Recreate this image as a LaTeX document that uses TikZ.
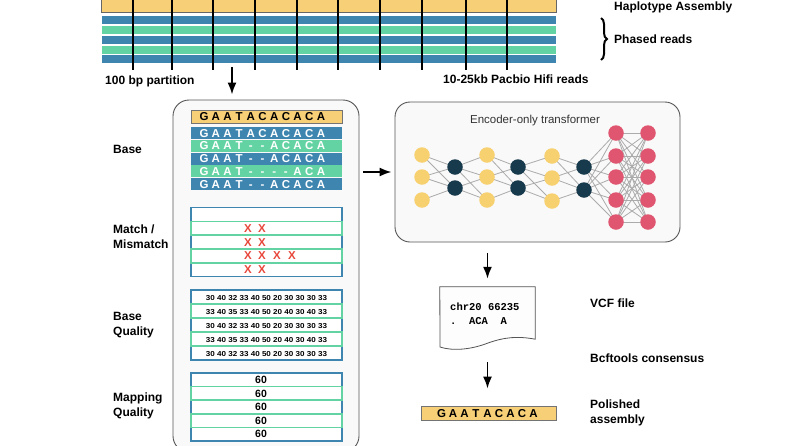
\documentclass[tikz,border=0pt]{standalone}
\usepackage{fontspec}
\usepackage{graphicx}
\setmainfont{Liberation Sans}
\setmonofont{Liberation Mono}
\usetikzlibrary{arrows.meta,decorations.pathreplacing}
\definecolor{hapY}{HTML}{F7CF77}
\definecolor{rBlue}{HTML}{3E85B0}
\definecolor{rGreen}{HTML}{64D3A3}
\definecolor{nYel}{HTML}{F7D06F}
\definecolor{nDark}{HTML}{173A4C}
\definecolor{nRed}{HTML}{E0556F}
\definecolor{xRed}{HTML}{E8473B}
\definecolor{panelFill}{HTML}{F9F9F9}
\definecolor{panelLine}{HTML}{555555}
\definecolor{edgeGray}{HTML}{ABABAB}
\definecolor{docFill}{HTML}{FDFDFD}
\newcommand{\seqrow}[4]{%
  \foreach \c [count=\i from 0] in {#4}
    \node[letter, text=#3] (#1-\i) at ({204+11.7*\i},#2) {\c};
}
\begin{document}
\begin{tikzpicture}[x=1pt,y=-1pt,
  lbl/.style={font=\bfseries\fontsize{12}{15}\selectfont, text=black, align=left, anchor=west, inner sep=0pt},
  arr/.style={-{Latex[length=12pt,width=9pt]}, line width=1.8pt},
  cut/.style={line width=1.7pt},
  panel/.style={draw=panelLine, fill=panelFill, line width=0.9pt, rounded corners=16pt, inner sep=0pt},
  seqbox/.style={minimum width=151pt, minimum height=12pt, inner sep=0pt},
  cellb/.style={draw=rBlue, line width=1.5pt, fill=white, minimum width=151pt, inner sep=0pt},
  cellg/.style={cellb, draw=rGreen},
  letter/.style={font=\bfseries\fontsize{11.5}{12}\selectfont, inner sep=0pt, anchor=base},
  qual/.style={font=\bfseries\fontsize{7.2}{8}\selectfont, inner sep=0pt},
  mq/.style={font=\bfseries\fontsize{10.5}{11}\selectfont, inner sep=0pt},
  xmark/.style={font=\bfseries\fontsize{11.5}{11}\selectfont, text=xRed, inner sep=0pt},
  yel/.style={circle, fill=nYel, minimum size=15.5pt, inner sep=0pt},
  dk/.style={yel, fill=nDark},
  rd/.style={yel, fill=nRed},
  edge/.style={draw=edgeGray, line width=0.8pt},
]
\clip (0,0) rectangle (800,445);
\fill[white] (0,0) rectangle (800,445);

% ---------- top: haplotype assembly and reads ----------
\draw[fill=hapY, draw=black!60, line width=0.8pt] (101,-5) rectangle (556,12);
\foreach \ya/\yb/\col in {16/23.5/rBlue, 26/33.5/rGreen, 36/43.5/rBlue, 46/53.5/rGreen, 55/62.5/rBlue}
  \fill[\col] (102,\ya) rectangle (556,\yb);
\foreach \x in {133,172,213,255,297,338,380,422,466,507}
  \draw[cut] (\x,-2) -- (\x,70);
\node[lbl] (hap) at (614,7) {Haplotype Assembly};
\node[lbl] (phased) at (614,39) {Phased reads};
\draw[decorate, decoration={brace, amplitude=6pt}, line width=2pt] (601,18) -- (601,60);
\node[lbl] (part) at (105,81) {100 bp partition};
\node[lbl] (hifi) at (443,79) {10-25kb Pacbio Hifi reads};

% ---------- left panel ----------
\node[panel, minimum width=186pt, minimum height=352pt] (leftp) at (266,276) {};
\coordinate (a1s) at (232,67);
\draw[arr, shorten >=5pt] (a1s) -- (a1s |- leftp.north);

% Base
\node[lbl] (lbase) at (113,149) {Base};
\node[seqbox, fill=hapY, draw=black!55, line width=0.8pt, minimum height=13pt] (ref) at (266.5,116.5) {};
\seqrow{refl}{120.6}{black}{G,A,A,T,A,C,A,C,A,C,A}
\node[seqbox, fill=rBlue] (s1) at (266.5,133) {};
\node[seqbox, fill=rGreen] (s2) at (266.5,145.8) {};
\node[seqbox, fill=rBlue] (s3) at (266.5,158.6) {};
\node[seqbox, fill=rGreen] (s4) at (266.5,171.4) {};
\node[seqbox, fill=rBlue] (s5) at (266.5,184.2) {};
\seqrow{s1l}{137.1}{white}{G,A,A,T,A,C,A,C,A,C,A}
\seqrow{s2l}{149.9}{white}{G,A,A,T,-,-,A,C,A,C,A}
\seqrow{s3l}{162.7}{white}{G,A,A,T,-,-,A,C,A,C,A}
\seqrow{s4l}{175.5}{white}{G,A,A,T,-,-,-,-,A,C,A}
\seqrow{s5l}{188.3}{white}{G,A,A,T,-,-,A,C,A,C,A}

% Match / Mismatch
\node[lbl] (lmatch) at (113,237) {Match /\\Mismatch};
\node[cellb, minimum height=13.8pt] (m1) at (266.5,214.5) {};
\node[cellb, minimum height=13.8pt] (m3) at (266.5,242.1) {};
\node[cellb, minimum height=13.8pt] (m5) at (266.5,269.7) {};
\node[cellg, minimum height=13.8pt] (m2) at (266.5,228.3) {};
\node[cellg, minimum height=13.8pt] (m4) at (266.5,255.9) {};
\foreach \x/\y [count=\k] in {248/228.3, 262/228.3, 248/242.1, 262/242.1, 248/255.9, 262/255.9, 277/255.9, 292/255.9, 248/269.7, 262/269.7}
  \node[xmark] (x\k) at (\x,\y) {X};

% Base quality
\node[lbl] (lbq) at (113,325.5) {Base\\Quality};
\node[cellb, minimum height=14pt] (q1) at (266.5,297) {};
\node[cellb, minimum height=14pt] (q3) at (266.5,325) {};
\node[cellb, minimum height=14pt] (q5) at (266.5,353) {};
\node[cellg, minimum height=14pt] (q2) at (266.5,311) {};
\node[cellg, minimum height=14pt] (q4) at (266.5,339) {};
\foreach \r in {1,3,5}
  \node[qual] (qt\r) at ([yshift=-1pt]q\r.center) {\scalebox{1.12}[1]{30 40 32 33 40 50 20 30 30 30 33}};
\foreach \r in {2,4}
  \node[qual] (qt\r) at ([yshift=-1pt]q\r.center) {\scalebox{1.12}[1]{33 40 35 33 40 50 20 40 30 40 33}};

% Mapping quality
\node[lbl] (lmq) at (113,405.5) {Mapping\\Quality};
\node[cellb, minimum height=13.6pt] (p1) at (266.5,379.8) {};
\node[cellb, minimum height=13.6pt] (p3) at (266.5,407) {};
\node[cellb, minimum height=13.6pt] (p5) at (266.5,434.2) {};
\node[cellg, minimum height=13.6pt] (p2) at (266.5,393.4) {};
\node[cellg, minimum height=13.6pt] (p4) at (266.5,420.6) {};
\foreach \r in {1,...,5}
  \node[mq] (pt\r) at ([xshift=-5.5pt]p\r.center) {60};

% ---------- right panel ----------
\node[panel, rounded corners=15pt, minimum width=285pt, minimum height=140pt] (rightp) at (537.5,172) {};
\draw[arr] ([xshift=4pt]leftp.east |- rightp.west) -- ([xshift=-3pt]rightp.west);
\node[font=\fontsize{11.5}{13}\selectfont, text=black!80, inner sep=0pt] (enc) at (535,121) {Encoder-only transformer};

\foreach \n/\x/\y in {Y1a/422/155, Y1b/422/177, Y1c/422/200, D1a/455/167, D1b/455/188,
  Y2a/487/155, Y2b/487/177, Y2c/487/200, D2a/518/167, D2b/518/188,
  Y3a/552/156, Y3b/552/178, Y3c/552/201, D3a/584/167, D3b/584/190}
  \coordinate (\n) at (\x,\y);
\foreach \i/\y in {1/133,2/156,3/177,4/200,5/222} {
  \coordinate (R1\i) at (616,\y);
  \coordinate (R2\i) at (648,\y);
}
\foreach \a/\b in {Y1a/D1a, Y1b/D1a, Y1b/D1b, Y1c/D1b, Y1a/D1b,
  D1a/Y2a, D1a/Y2b, D1b/Y2b, D1b/Y2c, D1a/Y2c,
  Y2a/D2a, Y2b/D2a, Y2b/D2b, Y2c/D2b, Y2a/D2b,
  D2a/Y3a, D2a/Y3b, D2b/Y3b, D2b/Y3c, D2a/Y3c,
  Y3a/D3a, Y3b/D3a, Y3b/D3b, Y3c/D3b, Y3a/D3b}
  \draw[edge] (\a) -- (\b);
\foreach \i in {1,...,5} {
  \draw[edge] (D3a) -- (R1\i);
  \draw[edge] (D3b) -- (R1\i);
  \foreach \j in {1,...,5}
    \draw[edge] (R1\i) -- (R2\j);
}
\foreach \n in {Y1a,Y1b,Y1c,Y2a,Y2b,Y2c,Y3a,Y3b,Y3c}
  \node[yel] (n-\n) at (\n) {};
\foreach \n in {D1a,D1b,D2a,D2b,D3a,D3b}
  \node[dk] (n-\n) at (\n) {};
\foreach \i in {1,...,5} {
  \node[rd] (n-R1\i) at (R1\i) {};
  \node[rd] (n-R2\i) at (R2\i) {};
}

% ---------- VCF / consensus / polished ----------
\node[minimum width=95pt, minimum height=52pt, inner sep=0pt] (doc) at (487.5,313) {};
\draw[draw=panelLine, fill=docFill, line width=0.8pt]
  (doc.north west) -- (doc.north east) -- (doc.south east)
  .. controls (518,336) and (505,337) .. (488,343)
  .. controls (470,350) and (452,351) .. (440,347) -- cycle;
\draw[arr, shorten <=11pt, shorten >=8pt] (rightp.south -| doc.north) -- (doc.north);
\node[font=\ttfamily\bfseries\fontsize{10.5}{12}\selectfont, anchor=west, inner sep=0pt] (chr) at (450,307) {chr20 66235};
\node[font=\ttfamily\bfseries\fontsize{10.5}{12}\selectfont, anchor=west, inner sep=0pt] (alt) at (450,321) {.~~ACA~~A};
\node[lbl] (vcf) at (590,303) {VCF file};
\node[lbl] (bcf) at (590,358) {Bcftools consensus};

\node[fill=hapY, draw=black!55, line width=0.8pt, minimum width=135pt, minimum height=14pt, inner sep=0pt] (pol) at (488.5,413) {};
\foreach \c [count=\i from 0] in {G,A,A,T,A,C,A,C,A}
  \node[letter] (pl-\i) at ({441.5+11.5*\i},417.1) {\c};
\draw[arr, shorten <=23pt, shorten >=17pt] (doc.south) -- (doc.south |- pol.north);
\node[lbl] (polished) at (590,412.5) {Polished\\assembly};
\end{tikzpicture}
\end{document}
